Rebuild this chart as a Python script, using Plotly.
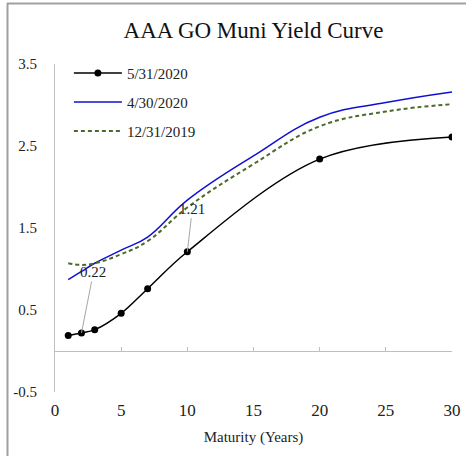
import plotly.graph_objects as go

# Data
mat_may = [1, 2, 3, 5, 7, 10, 20, 30]
yld_may = [0.19, 0.22, 0.26, 0.46, 0.76, 1.21, 2.34, 2.61]

mat_curve = [1, 2, 3, 5, 7, 10, 15, 20, 25, 30]
yld_apr = [0.87, 0.97, 1.07, 1.23, 1.39, 1.84, 2.38, 2.85, 3.03, 3.16]
yld_dec = [1.07, 1.05, 1.07, 1.18, 1.34, 1.75, 2.28, 2.74, 2.92, 3.01]

labels = {2: "0.22", 10: "1.21"}

FONT = "Liberation Serif"
W, H = 466, 456
L, R, T, B = 55, 14, 64, 64

fig = go.Figure()
fig.add_trace(go.Scatter(x=mat_may, y=yld_may, name="5/31/2020", mode="lines+markers",
                         line=dict(color="black", width=1.5, shape="spline", smoothing=1.0),
                         marker=dict(size=7, color="black"), legendgroup="a"))
fig.add_trace(go.Scatter(x=mat_curve, y=yld_apr, name="4/30/2020", mode="lines",
                         line=dict(color="#1010D0", width=1.5, shape="spline", smoothing=1.2),
                         legendgroup="b"))
fig.add_trace(go.Scatter(x=mat_curve, y=yld_dec, name="12/31/2019", mode="lines",
                         line=dict(color="#4A6B2A", width=2, dash="4px,3px", shape="spline", smoothing=1.2),
                         legendgroup="c"))
# invisible carrier so the bottom label axis is drawn
fig.add_trace(go.Scatter(x=mat_curve, y=yld_apr, xaxis="x2", mode="lines", opacity=0,
                         line=dict(width=0), showlegend=False, hoverinfo="skip"))

for xv, txt in labels.items():
    yv = yld_may[mat_may.index(xv)]
    off = (12, -61) if xv == 2 else (5, -43)
    fig.add_annotation(x=xv, y=yv, text=txt, showarrow=True, arrowhead=0, arrowwidth=1,
                       arrowcolor="#A6A6A6", ax=off[0], ay=off[1],
                       font=dict(family=FONT, size=15, color="#222"))

ph = H - T - B
pw = W - L - R
px = lambda p: (p - L) / pw
py = lambda p: (H - B - p) / ph
fig.add_shape(type="line", xref="paper", yref="paper", x0=px(7.5), x1=px(7.5), y0=py(3), y1=py(H),
              line=dict(color="#A0A0A0", width=2))
fig.add_shape(type="line", xref="paper", yref="paper", x0=px(7), x1=px(W), y0=py(3.5), y1=py(3.5),
              line=dict(color="#A0A0A0", width=2))

fig.update_layout(
    width=W, height=H, margin=dict(l=L, r=R, t=T, b=B, autoexpand=False),
    paper_bgcolor="white", plot_bgcolor="white",
    font=dict(family=FONT, color="#222"),
    title=dict(text="AAA GO Muni Yield Curve", x=0.5, xref="paper", xanchor="center",
               y=1 - 30 / H, yanchor="middle", font=dict(size=23, color="#111")),
    showlegend=True,
    legend=dict(x=0.035, y=1.022, xanchor="left", yanchor="top", bgcolor="rgba(0,0,0,0)",
                font=dict(size=15, family=FONT), tracegroupgap=6.5, itemwidth=48),
    xaxis=dict(range=[0, 30], anchor="free", position=0.125, showline=True, linecolor="#BFBFBF",
               linewidth=1, ticks="inside", ticklen=4, tickcolor="#BFBFBF", dtick=5, tick0=0,
               showticklabels=False, showgrid=False, zeroline=False, automargin=False),
    xaxis2=dict(range=[0, 30], overlaying="x", side="bottom", anchor="y", showline=False,
                ticks="", dtick=5, tick0=0, showgrid=False, zeroline=False, automargin=False,
                tickfont=dict(size=17, family=FONT), ticklabelstandoff=6,
                title=dict(text="Maturity (Years)", font=dict(size=15, family=FONT), standoff=12)),
    yaxis=dict(range=[-0.5, 3.5], tickvals=[-0.5, 0.5, 1.5, 2.5, 3.5],
               ticktext=["-0.5", "0.5", "1.5", "2.5", "3.5"], automargin=False,
               showline=True, linecolor="#BFBFBF", linewidth=1, ticks="", showgrid=False,
               zeroline=False, tickfont=dict(size=15, family=FONT), ticklabelstandoff=14),
)

fig.write_html("out.html", config={"displayModeBar": False},
               post_script="document.body.style.margin='0px';")
